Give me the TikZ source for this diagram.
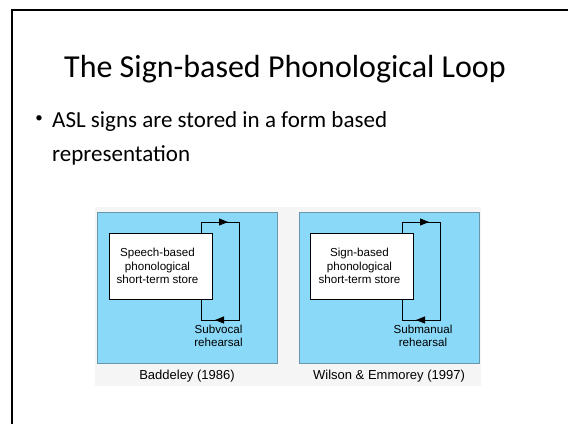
\documentclass[tikz,border=0pt]{standalone}
\usepackage{fontspec}
\setmainfont{Carlito}
\newfontfamily\arialf{Liberation Sans}
\usetikzlibrary{arrows.meta}
\definecolor{panelblue}{RGB}{138,217,249}
\definecolor{paneledge}{RGB}{105,150,170}
\definecolor{capbg}{RGB}{245,245,245}
\tikzset{
  slideline/.style={line width=2pt,black},
  panel/.style={fill=panelblue,draw=paneledge,line width=0.6pt},
  storebox/.style={draw=black,fill=white,line width=1pt,minimum width=103pt,minimum height=66pt,inner sep=0pt},
  storetext/.style={align=center,inner sep=0pt,font=\arialf\fontsize{11.6}{13.5}\selectfont},
  loopline/.style={draw=black,line width=1pt},
  looptip/.style={loopline,-{Triangle[length=9pt,width=7pt]}},
  looplabel/.style={align=center,inner sep=0pt,font=\arialf\fontsize{11.6}{13.5}\selectfont},
  caption/.style={inner sep=0pt,font=\arialf\fontsize{13}{15}\selectfont},
  title/.style={inner sep=0pt,anchor=base,font=\fontsize{32}{38}\selectfont},
  bodytext/.style={inner sep=0pt,anchor=base west,font=\fontsize{23}{28}\selectfont},
}
\begin{document}
\begin{tikzpicture}[x=1pt,y=-1pt]
\useasboundingbox (0,0) rectangle (568,424);
\fill[white] (0,0) rectangle (568,424);
% slide frame
\coordinate (fr) at (568,10);
\coordinate (fc) at (12,10);
\coordinate (fb) at (12,424);
\draw[slideline] (fr) -- (fc) -- (fb);
% title and bullet
\node[title] (title) at (285,77) {The Sign-based Phonological Loop};
\node[inner sep=0pt,font=\fontsize{15}{18}\selectfont] (bullet) at (39,119) {•};
\node[bodytext] (l1) at (52,127) {ASL signs are stored in a form based};
\node[bodytext] (l2) at (52,161) {representation};
% figure background
\fill[capbg] (95,207) rectangle (481,386);
% panel 1
\draw[panel] (97,212) rectangle (277,363);
\node[storebox] (box1) at (160.5,266) {};
\node[storetext] (txt1) at (157.5,266) {Speech-based\\phonological\\short-term store};
\coordinate (a1) at (201,222);
\coordinate (m1) at (228,222);
\coordinate (b1) at (239,222);
\coordinate (c1) at (239,320);
\coordinate (n1) at (215,320);
\coordinate (d1) at (201,320);
\draw[loopline] (box1.north -| a1) -- (a1) -- (m1);
\draw[looptip] (a1) -- (m1);
\draw[loopline] (m1) -- (b1) -- (c1) -- (n1);
\draw[looptip] (c1) -- (n1);
\draw[loopline] (n1) -- (d1) -- (box1.south -| d1);
\node[looplabel] (lab1) at (218.5,336) {Subvocal\\rehearsal};
\node[caption] (cap1) at (187,376) {Baddeley (1986)};
% panel 2
\draw[panel] (299,212) rectangle (479,363);
\node[storebox] (box2) at (361.5,266) {};
\node[storetext] (txt2) at (359.5,266) {Sign-based\\phonological\\short-term store};
\coordinate (a2) at (402,222);
\coordinate (m2) at (429,222);
\coordinate (b2) at (440,222);
\coordinate (c2) at (440,320);
\coordinate (n2) at (416,320);
\coordinate (d2) at (402,320);
\draw[loopline] (box2.north -| a2) -- (a2) -- (m2);
\draw[looptip] (a2) -- (m2);
\draw[loopline] (m2) -- (b2) -- (c2) -- (n2);
\draw[looptip] (c2) -- (n2);
\draw[loopline] (n2) -- (d2) -- (box2.south -| d2);
\node[looplabel] (lab2) at (423,336) {Submanual\\rehearsal};
\node[caption] (cap2) at (389,376) {Wilson \& Emmorey (1997)};
\end{tikzpicture}
\end{document}
